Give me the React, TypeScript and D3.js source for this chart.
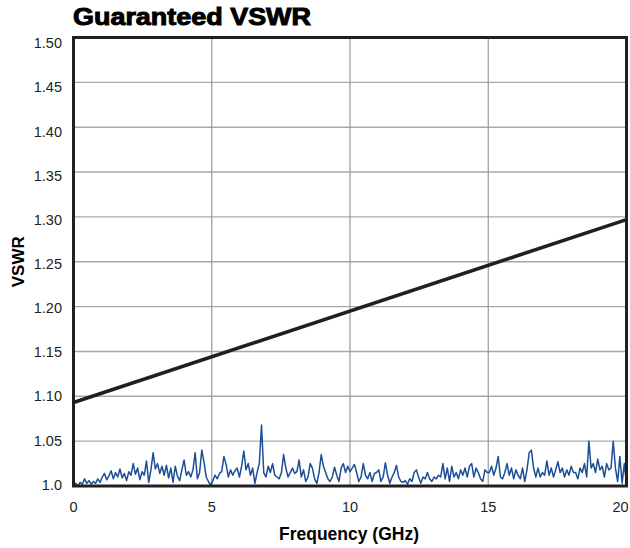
import React from "react";
import * as d3 from "d3";

const title = "Guaranteed VSWR";
const xTicks = [0, 5, 10, 15, 20];
const yTicks = [1.0, 1.05, 1.1, 1.15, 1.2, 1.25, 1.3, 1.35, 1.4, 1.45, 1.5];
const yTickLabels = ["1.0", "1.05", "1.10", "1.15", "1.20", "1.25", "1.30", "1.35", "1.40", "1.45", "1.50"];

const guaranteedFreq = [0, 20];
const guaranteedVswr = [1.093, 1.297];

const measured: [number, number][] = [
  [0, 1.001], [0.08, 1.003], [0.16, 1.0], [0.24, 1.004], [0.32, 1.002], [0.4, 1.008], [0.48, 1.003], [0.56, 1.006], [0.64, 1.002], [0.72, 1.005], [0.8, 1.003], [0.88, 1.008], [0.96, 1.004],
  [1.04, 1.01], [1.12, 1.014], [1.2, 1.007], [1.28, 1.011], [1.36, 1.017], [1.44, 1.008], [1.52, 1.015], [1.6, 1.01], [1.68, 1.019], [1.76, 1.009], [1.84, 1.014], [1.92, 1.006],
  [2.0, 1.016], [2.08, 1.012], [2.16, 1.025], [2.24, 1.013], [2.32, 1.02], [2.4, 1.007], [2.48, 1.016], [2.56, 1.012], [2.64, 1.028], [2.72, 1.004], [2.8, 1.018], [2.88, 1.037], [2.96, 1.019],
  [3.04, 1.025], [3.12, 1.014], [3.2, 1.022], [3.28, 1.012], [3.36, 1.023], [3.44, 1.009], [3.52, 1.02], [3.6, 1.004], [3.68, 1.022], [3.76, 1.011], [3.84, 1.006], [3.92, 1.018],
  [4.0, 1.029], [4.08, 1.012], [4.16, 1.016], [4.24, 1.01], [4.32, 1.018], [4.4, 1.037], [4.48, 1.008], [4.56, 1.015], [4.64, 1.04], [4.72, 1.027], [4.8, 1.01], [4.88, 1.005], [4.96, 1.001],
  [5.04, 1.006], [5.12, 1.012], [5.2, 1.008], [5.28, 1.014], [5.36, 1.016], [5.44, 1.033], [5.52, 1.024], [5.6, 1.01], [5.68, 1.018], [5.76, 1.012], [5.84, 1.017], [5.92, 1.02],
  [6.0, 1.01], [6.08, 1.022], [6.16, 1.039], [6.24, 1.018], [6.32, 1.025], [6.4, 1.012], [6.48, 1.02], [6.56, 1.003], [6.64, 1.015], [6.72, 1.025], [6.8, 1.068], [6.88, 1.015], [6.96, 1.01],
  [7.04, 1.022], [7.12, 1.015], [7.2, 1.025], [7.28, 1.012], [7.36, 1.01], [7.44, 1.008], [7.52, 1.015], [7.6, 1.035], [7.68, 1.02], [7.76, 1.01], [7.84, 1.015], [7.92, 1.02],
  [8.0, 1.014], [8.08, 1.016], [8.16, 1.029], [8.24, 1.01], [8.32, 1.018], [8.4, 1.005], [8.48, 1.01], [8.56, 1.025], [8.64, 1.02], [8.72, 1.008], [8.8, 1.003], [8.88, 1.015], [8.96, 1.035],
  [9.04, 1.022], [9.12, 1.015], [9.2, 1.008], [9.28, 1.005], [9.36, 1.01], [9.44, 1.021], [9.52, 1.012], [9.6, 1.005], [9.68, 1.02], [9.76, 1.025], [9.84, 1.015], [9.92, 1.022],
  [10.0, 1.016], [10.08, 1.02], [10.16, 1.024], [10.24, 1.015], [10.32, 1.005], [10.4, 1.01], [10.48, 1.025], [10.56, 1.012], [10.64, 1.008], [10.72, 1.015], [10.8, 1.005], [10.88, 1.014], [10.96, 1.015],
  [11.04, 1.018], [11.12, 1.005], [11.2, 1.01], [11.28, 1.026], [11.36, 1.012], [11.44, 1.003], [11.52, 1.01], [11.6, 1.015], [11.68, 1.023], [11.76, 1.01], [11.84, 1.005], [11.92, 1.004],
  [12.0, 1.006], [12.08, 1.002], [12.16, 1.008], [12.24, 1.005], [12.32, 1.015], [12.4, 1.018], [12.48, 1.01], [12.56, 1.003], [12.64, 1.01], [12.72, 1.008], [12.8, 1.015], [12.88, 1.008], [12.96, 1.005],
  [13.04, 1.01], [13.12, 1.008], [13.2, 1.012], [13.28, 1.01], [13.36, 1.025], [13.44, 1.008], [13.52, 1.02], [13.6, 1.005], [13.68, 1.022], [13.76, 1.01], [13.84, 1.015], [13.92, 1.008],
  [14.0, 1.018], [14.08, 1.012], [14.16, 1.02], [14.24, 1.01], [14.32, 1.022], [14.4, 1.025], [14.48, 1.01], [14.56, 1.02], [14.64, 1.015], [14.72, 1.008], [14.8, 1.005], [14.88, 1.018], [14.96, 1.015],
  [15.04, 1.015], [15.12, 1.022], [15.2, 1.012], [15.28, 1.02], [15.36, 1.033], [15.44, 1.01], [15.52, 1.008], [15.6, 1.015], [15.68, 1.025], [15.76, 1.012], [15.84, 1.02], [15.92, 1.008],
  [16.0, 1.018], [16.08, 1.012], [16.16, 1.008], [16.24, 1.02], [16.32, 1.005], [16.4, 1.018], [16.48, 1.037], [16.56, 1.04], [16.64, 1.02], [16.72, 1.01], [16.8, 1.02], [16.88, 1.01], [16.96, 1.015],
  [17.04, 1.012], [17.12, 1.028], [17.2, 1.012], [17.28, 1.02], [17.36, 1.01], [17.44, 1.018], [17.52, 1.027], [17.6, 1.015], [17.68, 1.02], [17.76, 1.01], [17.84, 1.018], [17.92, 1.012],
  [18.0, 1.022], [18.08, 1.015], [18.16, 1.015], [18.24, 1.008], [18.32, 1.02], [18.4, 1.015], [18.48, 1.025], [18.56, 1.01], [18.64, 1.05], [18.72, 1.02], [18.8, 1.025], [18.88, 1.015], [18.96, 1.03],
  [19.04, 1.018], [19.12, 1.022], [19.2, 1.01], [19.28, 1.025], [19.36, 1.018], [19.44, 1.02], [19.52, 1.05], [19.6, 1.02], [19.68, 1.005], [19.76, 1.033], [19.84, 1.003], [19.92, 1.025], [20.0, 1.002],
];

const W = 630;
const H = 548;
const left = 73.5;
const right = 626.5;
const top = 37.5;
const bottom = 486;
const ink = "#231f20";
const font = "'Liberation Sans', Arial, Helvetica, sans-serif";

export default function App() {
  const x = d3.scaleLinear().domain([0, 20]).range([left, right]);
  const y = d3.scaleLinear().domain([1.0, 1.5]).range([bottom, top]);
  const yLabel = d3.scaleLinear().domain([1.0, 1.5]).range([484.5, 43]);

  const line = d3
    .line<[number, number]>()
    .x((d) => x(d[0]))
    .y((d) => y(d[1]));

  const guaranteed: [number, number][] = guaranteedFreq.map((f, i) => [f, guaranteedVswr[i]]);

  return (
    <svg
      width={W}
      height={H}
      viewBox={`0 0 ${W} ${H}`}
      style={{ position: "absolute", left: 0, top: 0, background: "#fff" }}
    >
      <rect x={0} y={0} width={W} height={H} fill="#fff" />
      <text
        x={73}
        y={25}
        fontFamily={font}
        fontWeight={900}
        fontSize={24}
        fill="#000"
        stroke="#000"
        strokeWidth={1}
        textLength={238}
        lengthAdjust="spacingAndGlyphs"
      >
        {title}
      </text>

      {/* grid */}
      {yTicks.slice(1, -1).map((t) => (
        <line key={"gy" + t} x1={left} x2={right} y1={y(t)} y2={y(t)} stroke="#a8a8a8" strokeWidth={1.4} />
      ))}
      {xTicks.slice(1, -1).map((t) => (
        <line key={"gx" + t} x1={x(t)} x2={x(t)} y1={top} y2={bottom} stroke="#999" strokeWidth={1.2} />
      ))}

      {/* measured */}
      <path d={line(measured) || ""} fill="none" stroke="#1a4f96" strokeWidth={1.5} strokeLinejoin="round" />

      {/* guaranteed */}
      <path d={line(guaranteed) || ""} fill="none" stroke={ink} strokeWidth={3.6} />

      {/* frame */}
      <rect x={left} y={top} width={right - left} height={bottom - top} fill="none" stroke={ink} strokeWidth={3} />

      {/* y tick labels */}
      {yTicks.map((t, i) => (
        <text
          key={"yl" + t}
          x={62}
          y={yLabel(t)}
          dy="0.36em"
          textAnchor="end"
          fontFamily={font}
          fontSize={14.5}
          fill={ink}
        >
          {yTickLabels[i]}
        </text>
      ))}

      {/* x tick labels */}
      {xTicks.map((t, i) => (
        <text
          key={"xl" + t}
          x={x(t) - (i === xTicks.length - 1 ? 6 : 0)}
          y={512}
          textAnchor="middle"
          fontFamily={font}
          fontSize={14.5}
          fill={ink}
        >
          {t}
        </text>
      ))}

      <text
        x={349}
        y={540}
        textAnchor="middle"
        fontFamily={font}
        fontWeight="bold"
        fontSize={17.5}
        fill="#000"
      >
        Frequency (GHz)
      </text>
      <text
        transform={`translate(24, ${(top + bottom) / 2}) rotate(-90)`}
        textAnchor="middle"
        fontFamily={font}
        fontWeight="bold"
        fontSize={17}
        fill="#000"
      >
        VSWR
      </text>
    </svg>
  );
}
